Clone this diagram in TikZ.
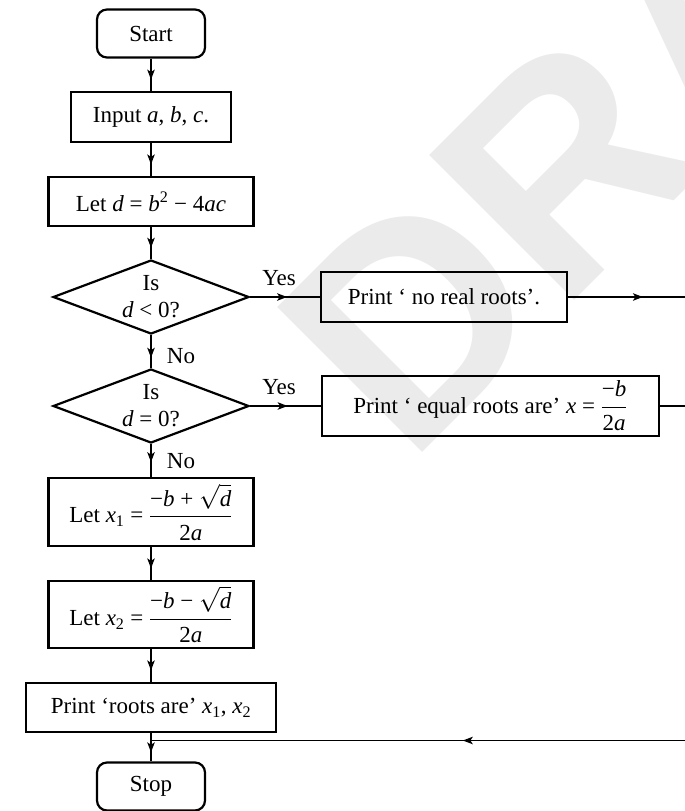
\documentclass[tikz,border=0pt]{standalone}
\usepackage{amsmath}
\usepackage{fontspec}
\setmainfont{Liberation Serif}
\newfontfamily\wmfont{Liberation Sans}
\usetikzlibrary{shapes.geometric,arrows.meta,decorations.markings}

\begin{document}
\begin{tikzpicture}[
  x=1pt, y=-1pt,
  font=\fontsize{23}{27}\selectfont,
  >={Stealth[length=10pt,width=7.5pt,inset=2.5pt]},
  box/.style={draw, line width=2.2pt, rectangle, inner sep=0pt, align=center},
  term/.style={box, rounded corners=10pt, minimum width=108pt, minimum height=48pt},
  dec/.style={draw, line width=2.2pt, diamond, aspect=2.6, inner sep=0pt, align=center,
              minimum width=196pt, minimum height=74pt},
  conn/.style={line width=1.3pt, postaction={decorate},
               decoration={markings, mark=at position #1 with {\arrow{>}}}},
  conn/.default=0.65,
  plain/.style={line width=1.3pt},
  lbl/.style={inner sep=0pt},
  wm/.style={inner sep=0pt, anchor=base west, rotate=45, text=black!8,
             font=\wmfont\bfseries\fontsize{298}{298}\selectfont}
]
\useasboundingbox (0,0) rectangle (685,811);

% watermark behind the chart
\begin{scope}
  \clip (0,0) rectangle (685,811);
  \node[wm] (wmark) at (408,467) {DRAFT};
\end{scope}

% main column
\node[term] (start) at (151,33.5) {Start};
\node[box, minimum width=160pt, minimum height=50pt] (input) at (151,117)
  {Input \textit{a}, \textit{b}, \textit{c}.};
\node[box, minimum width=205pt, minimum height=49pt] (letd) at (151,201.5)
  {Let \textit{d} = \textit{b}\textsuperscript{2} − 4\textit{ac}};
\node[dec] (dec1) at (151,297) {Is\\\textit{d} < 0?};
\node[dec] (dec2) at (151,406) {Is\\\textit{d} = 0?};
\node[box, minimum width=205pt, minimum height=68pt] (letx1) at (151,512)
  {Let \textit{x}\textsubscript{1} = $\dfrac{\text{−\textit{b} + }\sqrt{\text{\textit{d}}}}{\text{2\textit{a}}}$};
\node[box, minimum width=205pt, minimum height=67pt] (letx2) at (151,614.5)
  {Let \textit{x}\textsubscript{2} = $\dfrac{\text{−\textit{b} − }\sqrt{\text{\textit{d}}}}{\text{2\textit{a}}}$};
\node[box, minimum width=250pt, minimum height=49pt] (proots) at (151,707.5)
  {Print ‘roots are’ \textit{x}\textsubscript{1}, \textit{x}\textsubscript{2}};
\node[term] (stop) at (151,786.5) {Stop};

% side branches
\node[box, minimum width=246pt, minimum height=50pt] (noreal) at (444,297)
  {Print ‘ no real roots’.};
\node[box, minimum width=337pt, minimum height=60pt] (eqroots) at (490.5,406)
  {Print ‘ equal roots are’ \textit{x} = $\dfrac{\text{−\textit{b}}}{\text{2\textit{a}}}$};

% branch labels
\node[lbl] (yes1) at (279,278) {Yes};
\node[lbl] (yes2) at (279,387) {Yes};
\node[lbl] (no1) at (181,356) {No};
\node[lbl] (no2) at (181,461) {No};

% loose ends at the right margin
\coordinate (out1) at (685,297);
\coordinate (out2) at (685,406);
\coordinate (back) at (685,740.5);
\coordinate (join) at (151,740.5);

% connectors
\draw[conn] (start) -- (input);
\draw[conn] (input) -- (letd);
\draw[conn] (letd) -- (dec1);
\draw[conn=0.69] (dec1) -- (dec2);
\draw[conn=0.55] (dec2) -- (letx1);
\draw[conn] (letx1) -- (letx2);
\draw[conn] (letx2) -- (proots);
\draw[conn=0.68] (proots) -- (stop);
\draw[conn=0.53] (dec1) -- (noreal);
\draw[conn=0.64] (noreal) -- (out1);
\draw[conn=0.53] (dec2) -- (eqroots);
\draw[plain] (eqroots) -- (out2);
\draw[conn=0.416] (back) -- (join);
\end{tikzpicture}
\end{document}
